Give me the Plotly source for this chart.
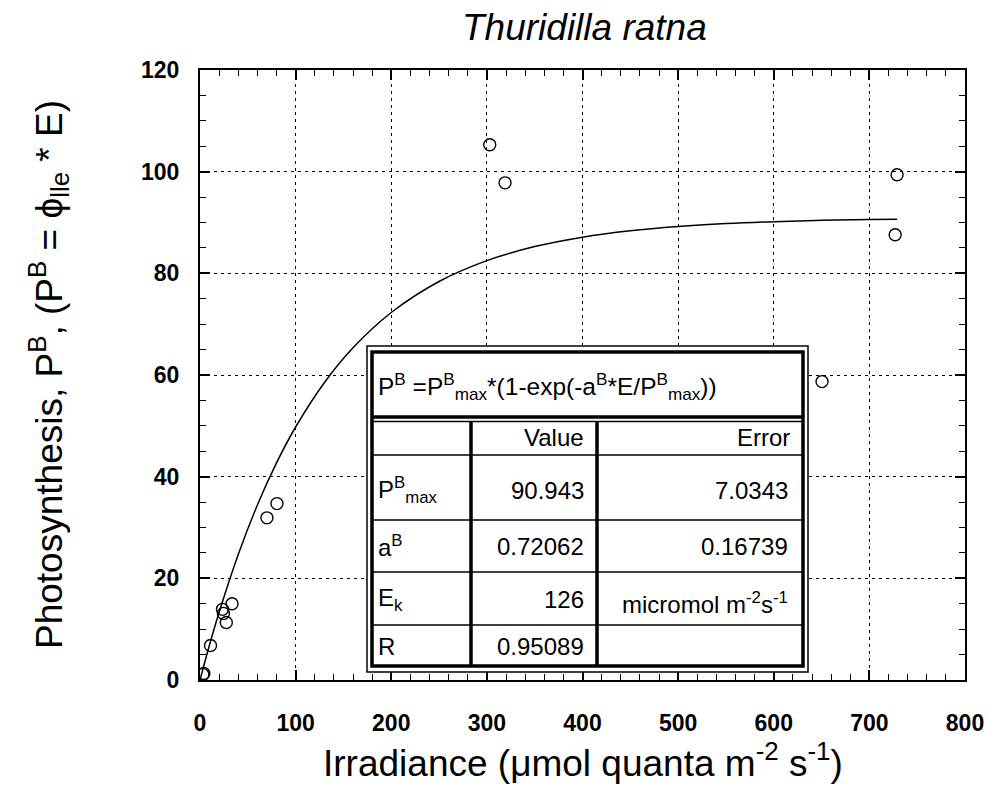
import plotly.graph_objects as go

# ---- data ----
irradiance = [3, 4, 11, 23.5, 24.5, 27.5, 33.5, 70, 80.5, 303, 319, 650.5, 729, 727]
photosynthesis = [1.1, 1.3, 6.8, 13.9, 13.1, 11.3, 15.0, 31.9, 34.7, 105.3, 97.8, 58.7, 99.4, 87.6]

fit_E = [0, 10, 20, 40, 60, 80, 100, 130, 160, 200, 250, 300, 350, 400, 450, 500, 550, 600, 650, 700, 729]
fit_P = [0, 6.93, 13.33, 24.70, 34.41, 42.70, 49.77, 58.48, 65.35, 72.30, 78.40, 82.50, 85.26,
         87.12, 88.37, 89.21, 89.78, 90.16, 90.42, 90.59, 90.66]

x_ticks = [0, 100, 200, 300, 400, 500, 600, 700, 800]
y_ticks = [0, 20, 40, 60, 80, 100, 120]

title_text = "<i>Thuridilla ratna</i>"
x_title = "Irradiance (μmol quanta m<sup>-2</sup> s<sup>-1</sup>)"
y_title = "Photosynthesis, P<sup>B</sup>, (P<sup>B</sup> = ϕ<sub>lle</sub> * E)"

table_formula = "P<sup>B</sup> =P<sup>B</sup><sub>max</sub>*(1-exp(-a<sup>B</sup>*E/P<sup>B</sup><sub>max</sub>))"
table_header = ["", "Value", "Error"]
table_rows = [
    ["P<sup>B</sup><sub>max</sub>", "90.943", "7.0343"],
    ["a<sup>B</sup>", "0.72062", "0.16739"],
    ["E<sub>k</sub>", "126", "micromol m<sup>-2</sup>s<sup>-1</sup>"],
    ["R", "0.95089", ""],
]

# ---- layout geometry (pixels) ----
W, H = 987, 785
ML, MR, MT, MB = 200, 22, 70, 105
PW = W - ML - MR
PH = H - MT - MB
LEFT = ML
BOTTOM = H - MB


def px(p):
    return (p - LEFT) / PW


def py(p):
    return (BOTTOM - p) / PH


FONT = "Arial, Liberation Sans, sans-serif"

fig = go.Figure()
fig.add_trace(go.Scatter(x=fit_E, y=fit_P, mode="lines",
                         line=dict(color="black", width=1.5), line_shape="spline",
                         hoverinfo="skip", showlegend=False))
fig.add_trace(go.Scatter(x=irradiance, y=photosynthesis, mode="markers",
                         marker=dict(symbol="circle-open", size=12, color="black",
                                     line=dict(width=1.4, color="black")),
                         showlegend=False))

axis_common = dict(
    showline=True, linecolor="black", linewidth=2, mirror="ticks",
    ticks="inside", tickcolor="black", tickwidth=1.5, ticklen=10,
    showgrid=True, gridcolor="black", gridwidth=1.3, griddash="3px,4px",
    zeroline=False, automargin=False, ticklabeloverflow="allow",
    tickfont=dict(family=FONT, size=23, color="black", weight="bold"),
)

fig.update_xaxes(range=[0, 800], tickvals=x_ticks, ticktext=[str(v) for v in x_ticks],
                 minor=dict(dtick=20, ticks="inside", ticklen=6, tickcolor="black",
                            tickwidth=1.3, showgrid=False),
                 ticklabelstandoff=21, **axis_common)
fig.update_yaxes(range=[0, 120], tickvals=y_ticks, ticktext=[str(v) for v in y_ticks],
                 minor=dict(dtick=5, ticks="inside", ticklen=6, tickcolor="black",
                            tickwidth=1.3, showgrid=False),
                 ticklabelstandoff=14, **axis_common)

shapes = []
# table boxes
shapes.append(dict(type="rect", xref="paper", yref="paper", layer="above",
                   x0=px(367), x1=px(808), y0=py(672), y1=py(346),
                   line=dict(color="black", width=1.5), fillcolor="white"))
shapes.append(dict(type="rect", xref="paper", yref="paper", layer="above",
                   x0=px(372), x1=px(803), y0=py(666), y1=py(352),
                   line=dict(color="black", width=3.5), fillcolor="rgba(0,0,0,0)"))
# header separator (double)
for yy, w in [(417, 3.5), (421.5, 1.3)]:
    shapes.append(dict(type="line", xref="paper", yref="paper", layer="above",
                       x0=px(372), x1=px(803), y0=py(yy), y1=py(yy),
                       line=dict(color="black", width=w)))
# row lines
for yy in [455, 520, 572, 625]:
    shapes.append(dict(type="line", xref="paper", yref="paper", layer="above",
                       x0=px(372), x1=px(803), y0=py(yy), y1=py(yy),
                       line=dict(color="black", width=1.3)))
# column lines
for xx in [471, 597]:
    shapes.append(dict(type="line", xref="paper", yref="paper", layer="above",
                       x0=px(xx), x1=px(xx), y0=py(422), y1=py(666),
                       line=dict(color="black", width=3.5)))

annotations = []


def add_text(text, x, y, anchor, size=24):
    annotations.append(dict(text=text, xref="paper", yref="paper", x=px(x), y=py(y),
                            xanchor=anchor, yanchor="middle", showarrow=False,
                            font=dict(family=FONT, size=size, color="black")))


add_text(table_formula, 376, 386, "left", size=24.5)
row_y = [437, 490, 546, 599, 646]
add_text(table_header[1], 586, row_y[0], "right")
add_text(table_header[2], 792, row_y[0], "right")
for i, row in enumerate(table_rows):
    y = row_y[i + 1]
    add_text(row[0], 376, y, "left")
    add_text(row[1], 586, y, "right")
    if row[2]:
        add_text(row[2], 790, y + (4 if i == 2 else 0), "right")

# title and axis titles
annotations.append(dict(text=title_text, xref="paper", yref="paper", x=px(584), y=py(28),
                        xanchor="center", yanchor="middle", showarrow=False,
                        font=dict(family=FONT, size=37, color="black")))
annotations.append(dict(text=x_title, xref="paper", yref="paper", x=px(583), y=py(760),
                        xanchor="center", yanchor="middle", showarrow=False,
                        font=dict(family=FONT, size=37, color="black")))
annotations.append(dict(text=y_title, xref="paper", yref="paper", x=px(48), y=py(375),
                        xanchor="center", yanchor="middle", showarrow=False, textangle=-90,
                        font=dict(family=FONT, size=37, color="black")))

fig.update_layout(width=W, height=H, margin=dict(l=ML, r=MR, t=MT, b=MB, autoexpand=False),
                  paper_bgcolor="white", plot_bgcolor="white",
                  shapes=shapes, annotations=annotations, showlegend=False)

fig.write_html("out.html", config={"displayModeBar": False},
               post_script="document.body.style.margin='0';")
